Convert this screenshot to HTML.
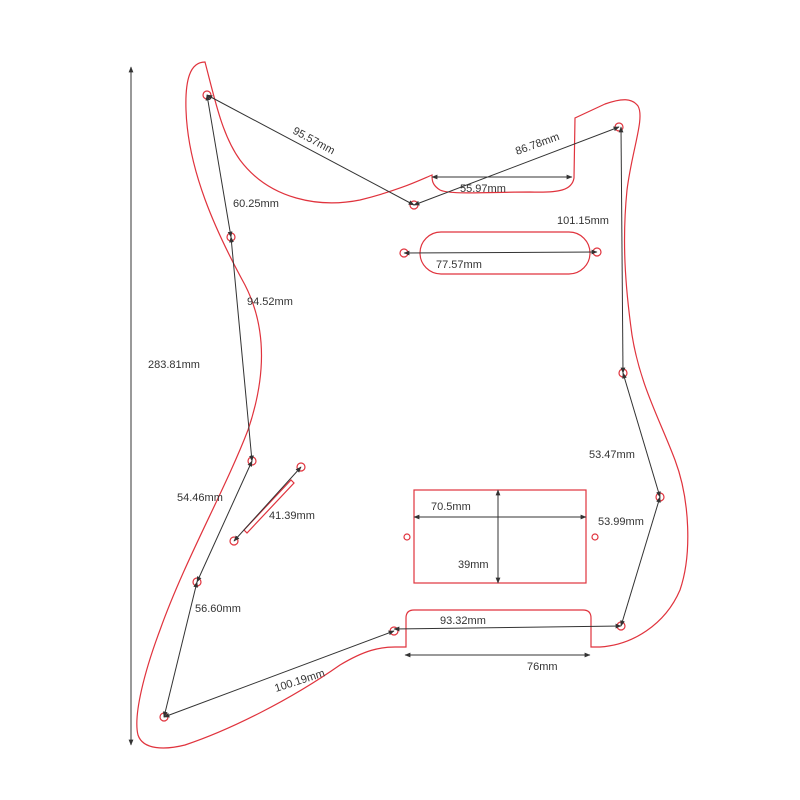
<!DOCTYPE html>
<html><head><meta charset="utf-8"><style>html,body{margin:0;padding:0;background:#fff}svg{display:block}</style></head>
<body>
<svg width="800" height="800" viewBox="0 0 800 800" xmlns="http://www.w3.org/2000/svg" font-family="Liberation Sans, sans-serif" font-size="11" fill="#333">
<defs>
<marker id="a" viewBox="0 0 10 10" refX="9" refY="5" markerWidth="6" markerHeight="6" orient="auto-start-reverse"><path d="M0,1 L10,5 L0,9 z" fill="#333"/></marker>
</defs>
<g fill="none" stroke="#e0333d" stroke-width="1.2">
<path d="M205,62 C190,62 185,80 186,110 C188,170 215,230 245,285 C268,330 265,380 248,430 C225,490 185,560 160,630 C145,670 133,715 138,735 C143,750 165,750 185,745 C230,730 290,700 340,665 C365,650 380,647 395,647 L406,647 L406,618 Q406,610 414,610 L583,610 Q591,610 591,618 L591,647 L600,647 C632,645 665,625 680,590 C692,555 690,500 675,460 C660,420 640,385 632,335 C625,285 622,240 627,190 C632,150 645,118 638,106 C632,98 622,98 605,104 L575,118 L574,178 C572,190 560,193 530,192 C490,192 450,195 440,190 C432,185 432,180 432,175 C420,180 400,190 360,200 C320,208 270,200 240,160 C222,135 215,100 205,62 Z"/>
<rect x="420" y="232" width="170" height="42" rx="21"/>
<rect x="414" y="490" width="172" height="93"/>
<path d="M244,530 L291,480 L294,483 L247,533 Z"/>
<g>
<circle cx="207" cy="95" r="4"/><circle cx="231" cy="237" r="4"/><circle cx="252" cy="461" r="4"/>
<circle cx="197" cy="582" r="4"/><circle cx="164" cy="717" r="4"/><circle cx="394" cy="631" r="4"/>
<circle cx="621" cy="626" r="4"/><circle cx="660" cy="497" r="4"/><circle cx="623" cy="373" r="4"/>
<circle cx="619" cy="127" r="4"/><circle cx="414" cy="205" r="4"/><circle cx="404" cy="253" r="4"/>
<circle cx="597" cy="252" r="4"/><circle cx="407" cy="537" r="3"/><circle cx="595" cy="537" r="3"/>
<circle cx="301" cy="467" r="4"/><circle cx="234" cy="541" r="4"/>
</g>
</g>
<g stroke="#333" stroke-width="1" marker-start="url(#a)" marker-end="url(#a)">
<line x1="131" y1="67" x2="131" y2="745"/>
<line x1="207" y1="95" x2="414" y2="205"/>
<line x1="414" y1="205" x2="619" y2="127"/>
<line x1="432" y1="177" x2="572" y2="177"/>
<line x1="404" y1="253" x2="597" y2="252"/>
<line x1="621" y1="127" x2="623" y2="373"/>
<line x1="207" y1="95" x2="231" y2="237"/>
<line x1="231" y1="237" x2="252" y2="461"/>
<line x1="252" y1="461" x2="197" y2="582"/>
<line x1="197" y1="582" x2="164" y2="717"/>
<line x1="164" y1="717" x2="394" y2="631"/>
<line x1="394" y1="629" x2="621" y2="626"/>
<line x1="405" y1="655" x2="590" y2="655"/>
<line x1="623" y1="373" x2="660" y2="497"/>
<line x1="660" y1="497" x2="621" y2="626"/>
<line x1="234" y1="541" x2="301" y2="467"/>
<line x1="414" y1="517" x2="586" y2="517"/>
<line x1="498" y1="490" x2="498" y2="583"/>
</g>
<g>
<text x="148" y="368">283.81mm</text>
<text x="292" y="133" transform="rotate(28 292 133)">95.57mm</text>
<text x="517" y="155" transform="rotate(-20 517 155)">86.78mm</text>
<text x="460" y="192">55.97mm</text>
<text x="557" y="224">101.15mm</text>
<text x="436" y="268">77.57mm</text>
<text x="233" y="207">60.25mm</text>
<text x="247" y="305">94.52mm</text>
<text x="589" y="458">53.47mm</text>
<text x="177" y="501">54.46mm</text>
<text x="269" y="519">41.39mm</text>
<text x="431" y="510">70.5mm</text>
<text x="458" y="568">39mm</text>
<text x="598" y="525">53.99mm</text>
<text x="195" y="612">56.60mm</text>
<text x="440" y="624">93.32mm</text>
<text x="276" y="692" transform="rotate(-18 276 692)">100.19mm</text>
<text x="527" y="670">76mm</text>
</g>
</svg>
</body></html>
